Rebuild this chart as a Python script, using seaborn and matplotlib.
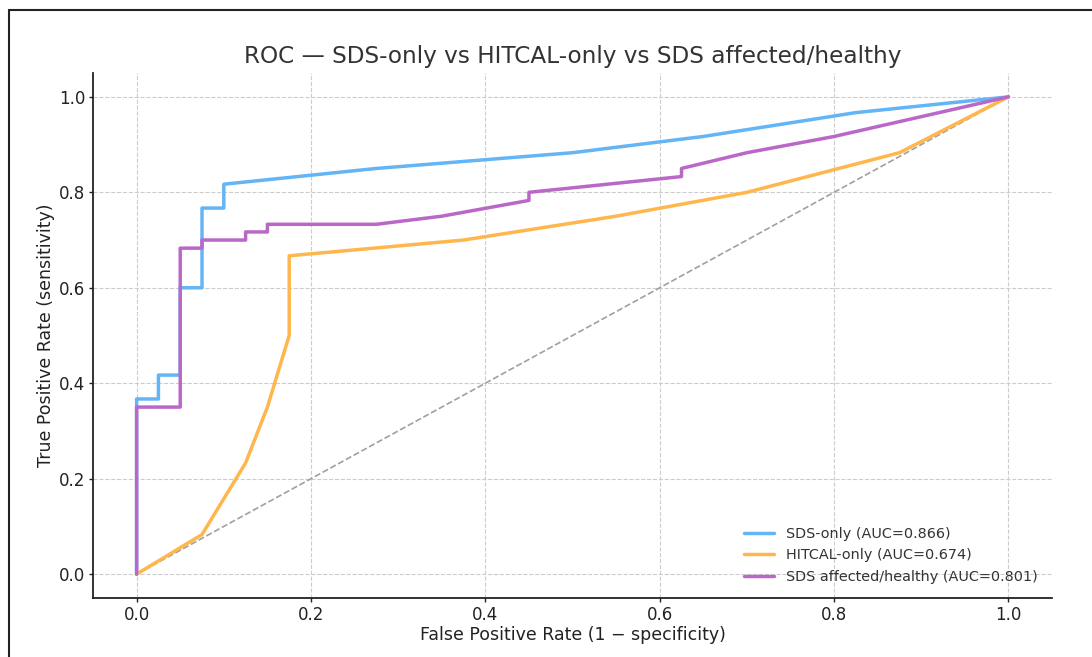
import numpy as np
import pandas as pd
import matplotlib
matplotlib.use("Agg")
import matplotlib.pyplot as plt
import seaborn as sns
from matplotlib.lines import Line2D

# ---- data ----
sds_fpr = [0.0, 0.0, 0.025, 0.025, 0.05, 0.05, 0.075, 0.075, 0.1, 0.1, 0.275, 0.5, 0.65, 0.825, 1.0]
sds_tpr = [0.0, 0.367, 0.367, 0.417, 0.417, 0.6, 0.6, 0.767, 0.767, 0.817, 0.85, 0.883, 0.917, 0.967, 1.0]

hit_fpr = [0.0, 0.075, 0.125, 0.15, 0.175, 0.175, 0.375, 0.55, 0.7, 0.875, 1.0]
hit_tpr = [0.0, 0.083, 0.233, 0.35, 0.5, 0.667, 0.7, 0.75, 0.8, 0.883, 1.0]

aff_fpr = [0.0, 0.0, 0.05, 0.05, 0.075, 0.075, 0.125, 0.125, 0.15, 0.15, 0.275, 0.35, 0.45, 0.45, 0.625, 0.625, 0.7, 0.8, 1.0]
aff_tpr = [0.0, 0.35, 0.35, 0.683, 0.683, 0.7, 0.7, 0.717, 0.717, 0.733, 0.733, 0.75, 0.783, 0.8, 0.833, 0.85, 0.883, 0.917, 1.0]

labels = ["SDS-only (AUC=0.866)", "HITCAL-only (AUC=0.674)", "SDS affected/healthy (AUC=0.801)"]
colors = ["#64B5F6", "#FFB74D", "#BA68C8"]
title = "ROC \u2014 SDS-only vs HITCAL-only vs SDS affected/healthy"
xlabel = "False Positive Rate (1 \u2212 specificity)"
ylabel = "True Positive Rate (sensitivity)"

sns.set_style("whitegrid", {"grid.linestyle": "--", "grid.color": "#cccccc",
                            "axes.edgecolor": "#222222", "xtick.bottom": True, "ytick.left": True})
plt.rcParams['font.family'] = ['DejaVu Sans']

fig = plt.figure(figsize=(10.92, 6.57), dpi=100)
ax = fig.add_axes([0.0852, 0.0898, 0.8782, 0.7991])

for fx, ty, lab, col in zip([sds_fpr, hit_fpr, aff_fpr], [sds_tpr, hit_tpr, aff_tpr], labels, colors):
    df = pd.DataFrame({"fpr": fx, "tpr": ty})
    sns.lineplot(data=df, x="fpr", y="tpr", sort=False, estimator=None, ax=ax,
                 color=col, linewidth=2.5, label=lab)

ax.plot([0, 1], [0, 1], linestyle="--", color="#a0a0a0", linewidth=1.2, zorder=1)

ax.set_xlim(-0.05, 1.05)
ax.set_ylim(-0.05, 1.05)
ax.set_xticks([0.0, 0.2, 0.4, 0.6, 0.8, 1.0])
ax.set_yticks([0.0, 0.2, 0.4, 0.6, 0.8, 1.0])
ax.grid(True, linestyle="--", linewidth=0.8, color="#cccccc")
ax.tick_params(axis="both", labelsize=12, colors="#222222", length=3, width=1, pad=2.5)
ax.set_xlabel(xlabel, fontsize=12.5, color="#222222", labelpad=2)
ax.set_ylabel(ylabel, fontsize=12.5, color="#222222", labelpad=3)
ax.set_title(title, fontsize=16.7, color="#333333", pad=7)
for s in ["top", "right"]:
    ax.spines[s].set_visible(False)
for s in ["left", "bottom"]:
    ax.spines[s].set_linewidth(1.3)
    ax.spines[s].set_color("#222222")

leg = ax.legend(loc="lower right", frameon=False, fontsize=10.4, handlelength=2.1,
                labelcolor="#333333", borderaxespad=0.6)

# outer frame (left and top edges)
fig.add_artist(Line2D([8.5 / 1092, 8.5 / 1092], [0, 1 - 9.5 / 657], transform=fig.transFigure,
                      color="#222222", linewidth=1.5))
fig.add_artist(Line2D([8.5 / 1092, 1.0], [1 - 9.5 / 657, 1 - 9.5 / 657], transform=fig.transFigure,
                      color="#222222", linewidth=1.5))

fig.savefig("out.png", dpi=100)
